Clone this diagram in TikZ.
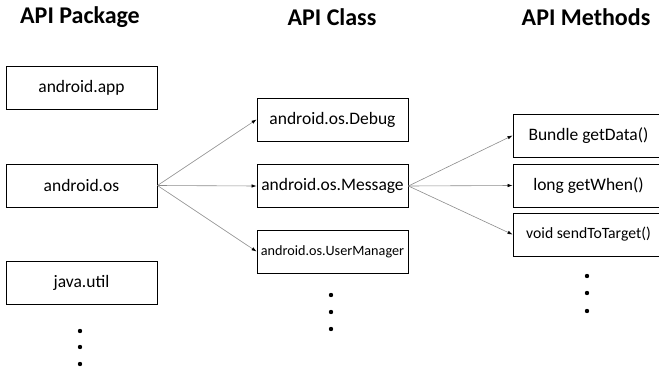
\documentclass[tikz,border=0pt]{standalone}
\usepackage{fontspec}
\setmainfont{Carlito}
\usepackage{tikz}
\usetikzlibrary{arrows.meta}

\begin{document}
\begin{tikzpicture}[x=1pt,y=-1pt,
  title/.style={font=\fontsize{24}{27}\selectfont\bfseries},
  box/.style={draw,line width=0.9pt,minimum width=151pt,minimum height=43pt,
    inner sep=0pt,font=\fontsize{17.5}{19}\selectfont},
  link/.style={draw=black!45,line width=0.6pt,-{Latex[black,length=5pt,width=3.5pt]}}]
\useasboundingbox (0,0) rectangle (659,372);
\clip (0,0) rectangle (659,372);
% column titles
\node[title] (tpkg) at (80,17) {API Package};
\node[title] (tcls) at (332,17) {API Class};
\node[title] (tmth) at (586,17) {API Methods};
% packages
\node[box] (app) at (81.5,88) {android.app};
\node[box] (os) at (81.5,185.5) {android.os};
\node[box] (util) at (81.5,282.5) {java.util};
% classes
\node[box] (debug) at (332.5,119.5) {android.os.Debug};
\node[box] (message) at (332.5,186) {android.os.Message};
\node[box,font=\fontsize{14.2}{16}\selectfont] (usermgr) at (332.5,251.5) {android.os.UserManager};
% methods
\node[box] (getdata) at (588.5,135.5) {Bundle getData()};
\node[box] (getwhen) at (588.5,185.5) {long getWhen()};
\node[box,font=\fontsize{15.7}{17}\selectfont] (sendtt) at (588.5,234.5) {void sendToTarget()};
% dots
\foreach \y in {331,347,364} {
  \fill (80,\y) circle (2.2pt);
}
\foreach \y in {295,312,329} {
  \fill (331,\y) circle (2.2pt);
}
\foreach \y in {276,293,311} {
  \fill (587,\y) circle (2.2pt);
}
% links
\foreach \c in {debug,message,usermgr} {
  \draw[link] (os.east) -- (\c.west);
}
\foreach \m in {getdata,getwhen,sendtt} {
  \draw[link] (message.east) -- (\m.west);
}
\end{tikzpicture}
\end{document}
